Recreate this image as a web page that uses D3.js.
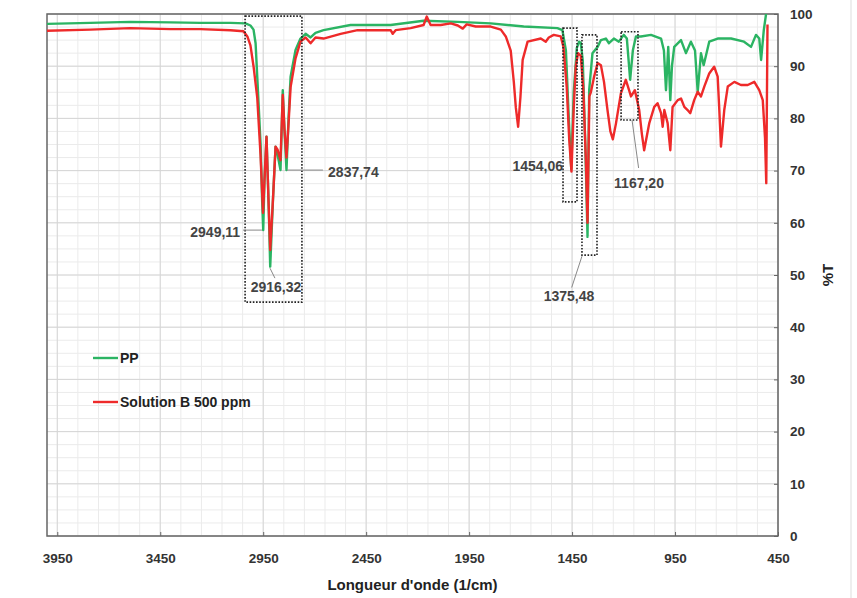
<!DOCTYPE html>
<html>
<head>
<title>FTIR PP</title>
<script src="https://d3js.org/d3.v7.min.js"></script>
<style>
body { margin: 0; background: #fff; }
text { font-family: "Liberation Sans", Arial, sans-serif; }
</style>
</head>
<body>
<div id="chart"></div>
<script>
// PP spectrum (wavenumber, %T)
var ppWn = [4000, 3790, 3595, 3401, 3255, 3109, 3036, 3012, 2997, 2987, 2979, 2963, 2955, 2950, 2944, 2934, 2924, 2916, 2902, 2890, 2880, 2866, 2855, 2847, 2837, 2827, 2817, 2793, 2769, 2744, 2720, 2696, 2657, 2526, 2331, 2171, 2005, 1845, 1685, 1521, 1497, 1480, 1466, 1454, 1442, 1427, 1416, 1408, 1398, 1386, 1375, 1367, 1351, 1326, 1310, 1286, 1271, 1247, 1223, 1199, 1184, 1168, 1155, 1140, 1116, 1067, 1018, 1004, 994, 983, 973, 965, 954, 921, 897, 873, 853, 840, 824, 811, 784, 743, 678, 615, 581, 557, 541, 532, 519, 508];
var ppT = [98.1, 98.3, 98.5, 98.4, 98.3, 98.3, 98.2, 97.8, 97.0, 94.4, 88.0, 75.3, 64.0, 58.6, 68.0, 76.5, 64.0, 51.6, 65.0, 74.6, 73.0, 70.1, 85.4, 78.0, 70.1, 80.0, 88.0, 93.1, 95.3, 96.2, 95.5, 96.4, 96.9, 97.9, 97.9, 98.7, 98.5, 98.2, 97.6, 97.3, 96.9, 93.0, 80.0, 70.3, 85.0, 93.5, 94.7, 94.5, 91.0, 75.0, 57.3, 85.4, 92.5, 93.7, 95.0, 95.3, 94.4, 95.3, 94.7, 96.0, 95.3, 87.4, 93.0, 95.7, 95.7, 96.0, 95.3, 93.0, 85.4, 93.7, 83.5, 90.0, 93.7, 95.0, 92.5, 94.7, 93.0, 85.1, 92.5, 90.2, 94.7, 95.3, 95.3, 94.7, 93.7, 96.0, 95.3, 91.2, 96.9, 100];

// Solution B 500 ppm spectrum
var solWn = [4000, 3790, 3595, 3401, 3255, 3109, 3046, 3027, 3012, 2997, 2979, 2963, 2951, 2944, 2934, 2924, 2916, 2902, 2890, 2880, 2866, 2855, 2847, 2837, 2827, 2817, 2793, 2769, 2744, 2720, 2696, 2657, 2574, 2492, 2404, 2331, 2321, 2307, 2234, 2171, 2156, 2137, 2088, 2039, 2005, 1981, 1962, 1918, 1845, 1796, 1772, 1748, 1733, 1723, 1712, 1701, 1690, 1666, 1602, 1578, 1563, 1539, 1505, 1492, 1476, 1464, 1453, 1442, 1432, 1421, 1408, 1396, 1383, 1375, 1366, 1359, 1343, 1326, 1310, 1295, 1278, 1264, 1252, 1237, 1213, 1189, 1174, 1164, 1145, 1124, 1111, 1100, 1075, 1051, 1035, 1018, 1010, 1002, 986, 973, 962, 937, 921, 905, 889, 876, 857, 840, 824, 808, 784, 760, 743, 735, 727, 711, 694, 662, 630, 597, 565, 541, 524, 513, 507, 501];
var solT = [96.8, 97.0, 97.3, 97.1, 97.1, 96.9, 96.7, 95.7, 94.0, 90.0, 84.0, 73.0, 61.9, 68.0, 76.5, 64.0, 54.8, 65.0, 74.6, 74.0, 72.0, 84.5, 78.0, 72.5, 79.0, 86.0, 91.5, 94.7, 95.5, 94.4, 95.5, 95.3, 96.2, 96.9, 96.9, 96.9, 96.2, 96.9, 97.3, 97.9, 99.5, 97.9, 97.9, 98.2, 97.8, 97.2, 98.0, 97.6, 97.6, 97.0, 95.7, 93.0, 87.0, 82.0, 78.4, 84.0, 91.2, 94.7, 95.3, 94.7, 95.5, 96.0, 95.7, 93.7, 86.0, 76.0, 69.8, 82.0, 90.0, 92.5, 92.0, 86.0, 72.0, 60.0, 84.2, 85.0, 88.0, 90.6, 90.2, 87.0, 81.6, 77.5, 76.0, 79.0, 84.8, 87.4, 85.5, 84.2, 85.4, 81.6, 77.0, 73.9, 79.1, 82.2, 82.9, 81.0, 78.4, 81.6, 79.1, 73.9, 82.2, 83.5, 83.8, 82.2, 81.6, 81.0, 83.5, 85.1, 84.2, 86.1, 88.6, 89.9, 88.0, 81.6, 74.6, 81.6, 86.1, 87.0, 86.4, 86.4, 87.0, 85.4, 83.5, 76.2, 67.6, 98.0];

var xTicks = [3950, 3450, 2950, 2450, 1950, 1450, 950, 450];
var yTicks = [0, 10, 20, 30, 40, 50, 60, 70, 80, 90, 100];
var seriesNames = ["PP", "Solution B 500 ppm"];
var seriesColors = ["#2bb463", "#ee2a2a"];

// peak labels: text, text position, leader line (wn, %T)
var peakLabels = ["2949,11", "2916,32", "2837,74", "1454,06", "1375,48", "1167,20"];
var labelWn = [3062, 2888, 2635, 1494, 1465, 1125];
var labelT = [58.2, 47.6, 69.7, 70.8, 46.0, 67.6];
var labelAnchor = ["end", "middle", "start", "end", "middle", "middle"];
var leaders = [[3048, 58.6, 2956, 58.6], [2917, 51.3, 2893, 49.4], [2834, 70.1, 2660, 70.1], null, [1402, 53.6, 1452, 47.6], [1159, 79.7, 1127, 70.5]];
// dotted boxes: wn from, wn to, %T top, %T bottom
var boxes = [[3038, 2762, 99.6, 44.8], [1494, 1426, 97.3, 64.0], [1402, 1329, 96.0, 53.8], [1212, 1130, 96.6, 79.7]];

var W = 857, H = 598;
var mLeft = 47, mRight = 778, mTop = 14, mBottom = 536;

var svg = d3.select("#chart").append("svg")
  .attr("width", W)
  .attr("height", H);

var x = d3.scaleLinear().domain([4000, 450]).range([mLeft, mRight]);
var y = d3.scaleLinear().domain([0, 100]).range([mBottom, mTop]);

// grid
var grid = svg.append("g");
grid.selectAll(".vminor")
  .data(d3.range(450, 4000, 100))
  .enter().append("line")
  .attr("x1", function(d) { return x(d); })
  .attr("x2", function(d) { return x(d); })
  .attr("y1", mTop).attr("y2", mBottom)
  .attr("stroke", "#ebebeb");
grid.selectAll(".hminor")
  .data(d3.range(0, 100, 2.5))
  .enter().append("line")
  .attr("x1", mLeft).attr("x2", mRight)
  .attr("y1", function(d) { return y(d); })
  .attr("y2", function(d) { return y(d); })
  .attr("stroke", "#ebebeb");
grid.selectAll(".vmajor")
  .data(xTicks)
  .enter().append("line")
  .attr("x1", function(d) { return x(d); })
  .attr("x2", function(d) { return x(d); })
  .attr("y1", mTop).attr("y2", mBottom)
  .attr("stroke", "#d6d6d6");
grid.selectAll(".hmajor")
  .data(yTicks)
  .enter().append("line")
  .attr("x1", mLeft).attr("x2", mRight)
  .attr("y1", function(d) { return y(d); })
  .attr("y2", function(d) { return y(d); })
  .attr("stroke", "#d6d6d6");

// axes
var xAxis = svg.append("g")
  .attr("transform", "translate(0," + mBottom + ")")
  .call(d3.axisBottom(x).tickValues(xTicks).tickFormat(d3.format("d")).tickSize(-4).tickPadding(17));
var yAxis = svg.append("g")
  .attr("transform", "translate(" + mRight + ",0)")
  .call(d3.axisRight(y).tickValues(yTicks).tickFormat(d3.format("d")).tickSize(-4).tickPadding(12));
[xAxis, yAxis].forEach(function(a) {
  a.select(".domain").remove();
  a.selectAll(".tick line").attr("stroke", "#666");
  a.selectAll(".tick text")
    .attr("fill", "#333")
    .style("font-size", "13.5px")
    .style("font-weight", "bold")
    .style("font-family", "'Liberation Sans', Arial, sans-serif");
});

svg.append("rect")
  .attr("x", mLeft).attr("y", mTop)
  .attr("width", mRight - mLeft).attr("height", mBottom - mTop)
  .attr("fill", "none")
  .attr("stroke", "#666")
  .attr("stroke-width", 1.5);

// spectra
svg.append("clipPath").attr("id", "plot")
  .append("rect")
  .attr("x", mLeft).attr("y", mTop)
  .attr("width", mRight - mLeft).attr("height", mBottom - mTop);

var line = d3.line()
  .x(function(d) { return x(d[0]); })
  .y(function(d) { return y(d[1]); });

var series = [d3.zip(ppWn, ppT), d3.zip(solWn, solT)];
svg.selectAll(".spectrum")
  .data(series)
  .enter().append("path")
  .attr("clip-path", "url(#plot)")
  .attr("d", line)
  .attr("fill", "none")
  .attr("stroke", function(d, i) { return seriesColors[i]; })
  .attr("stroke-width", 2.4)
  .attr("stroke-linejoin", "round");

// dotted boxes
svg.selectAll(".box")
  .data(boxes)
  .enter().append("rect")
  .attr("x", function(d) { return x(d[0]); })
  .attr("y", function(d) { return y(d[2]); })
  .attr("width", function(d) { return x(d[1]) - x(d[0]); })
  .attr("height", function(d) { return y(d[3]) - y(d[2]); })
  .attr("fill", "none")
  .attr("stroke", "#222")
  .attr("stroke-width", 1.6)
  .attr("stroke-dasharray", "1.6,1.6");

// leaders + labels
svg.selectAll(".leader")
  .data(leaders.filter(function(d) { return d; }))
  .enter().append("line")
  .attr("x1", function(d) { return x(d[0]); })
  .attr("y1", function(d) { return y(d[1]); })
  .attr("x2", function(d) { return x(d[2]); })
  .attr("y2", function(d) { return y(d[3]); })
  .attr("stroke", "#888")
  .attr("stroke-width", 1);

svg.selectAll(".peak")
  .data(peakLabels)
  .enter().append("text")
  .attr("x", function(d, i) { return x(labelWn[i]); })
  .attr("y", function(d, i) { return y(labelT[i]); })
  .attr("dy", "0.35em")
  .attr("text-anchor", function(d, i) { return labelAnchor[i]; })
  .attr("fill", "#444")
  .style("font-size", "14px")
  .style("font-weight", "bold")
  .text(function(d) { return d; });

// legend
var legend = svg.selectAll(".legend")
  .data(seriesNames)
  .enter().append("g")
  .attr("transform", function(d, i) { return "translate(93," + (358 + i * 44) + ")"; });
legend.append("line")
  .attr("x1", 0).attr("x2", 25)
  .attr("stroke", function(d, i) { return seriesColors[i]; })
  .attr("stroke-width", 2.4);
legend.append("text")
  .attr("x", 27)
  .attr("dy", "0.35em")
  .attr("fill", "#222")
  .style("font-size", "14px")
  .style("font-weight", "bold")
  .text(function(d) { return d; });

// axis titles
svg.append("text")
  .attr("x", (mLeft + mRight) / 2)
  .attr("y", 585)
  .attr("dy", "0.35em")
  .attr("text-anchor", "middle")
  .attr("fill", "#222")
  .style("font-size", "15px")
  .style("font-weight", "bold")
  .text("Longueur d'onde (1/cm)");

svg.append("text")
  .attr("transform", "translate(828,275) rotate(-90)")
  .attr("dy", "0.35em")
  .attr("text-anchor", "middle")
  .attr("fill", "#222")
  .style("font-size", "15px")
  .style("font-weight", "bold")
  .text("%T");

svg.append("line")
  .attr("x1", 851).attr("x2", 851)
  .attr("y1", 0).attr("y2", H)
  .attr("stroke", "#ddd");
</script>
</body>
</html>
